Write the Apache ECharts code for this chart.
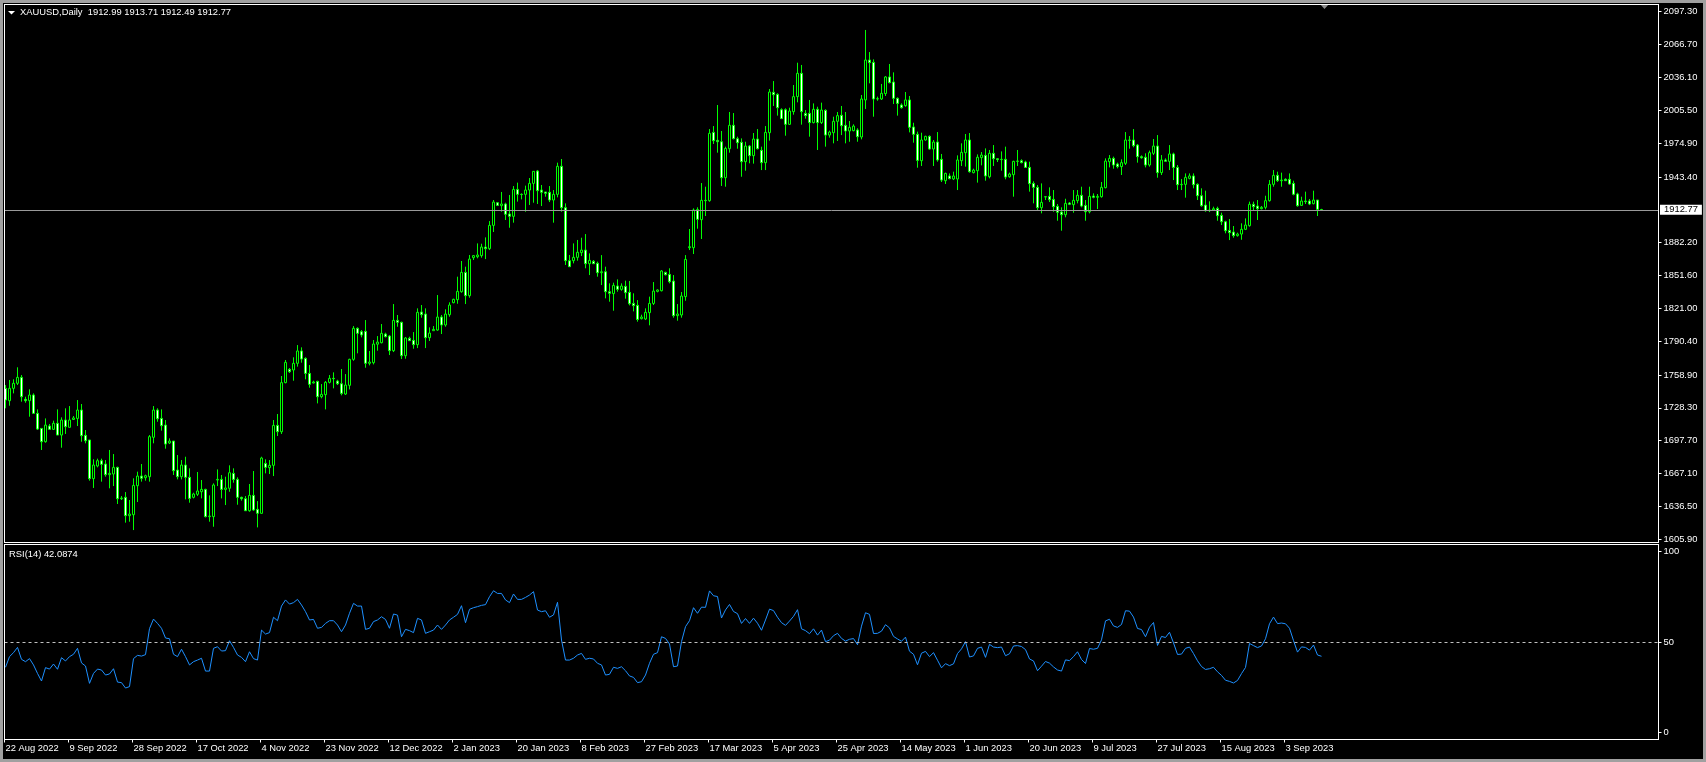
<!DOCTYPE html>
<html><head><meta charset="utf-8">
<script src="https://cdn.jsdelivr.net/npm/echarts/dist/echarts.min.js"></script>
<style>html,body{margin:0;padding:0;background:#000;overflow:hidden}#c{width:1706px;height:762px}</style>
</head><body><div id="c"></div><script>
const symbolName = 'XAUUSD,Daily';
const rsiTitle = 'RSI(14) 42.0874';
const bidPrice = 1912.77;
const barsPerLabel = 16;
const tickLabels = ['22 Aug 2022','9 Sep 2022','28 Sep 2022','17 Oct 2022','4 Nov 2022','23 Nov 2022','12 Dec 2022','2 Jan 2023','20 Jan 2023','8 Feb 2023','27 Feb 2023','17 Mar 2023','5 Apr 2023','25 Apr 2023','14 May 2023','1 Jun 2023','20 Jun 2023','9 Jul 2023','27 Jul 2023','15 Aug 2023','3 Sep 2023'];
const priceTicks = [1605.9,1636.5,1667.1,1697.7,1728.3,1758.9,1790.4,1821.0,1851.6,1882.2,1943.4,1974.9,2005.5,2036.1,2066.7,2097.3];
const rsiTicks = [0,50,100];
const rsiLevel = 50;
// [open, close, low, high]
const candles = [
[1746.5,1735.6,1727.9,1749.6],[1735.0,1746.5,1730.3,1754.3],[1746.5,1751.2,1741.8,1754.9],[1751.2,1756.7,1749.6,1766.1],[1756.7,1738.7,1734.1,1758.9],
[1736.3,1735.0,1733.1,1738.7],[1735.0,1740.3,1720.1,1745.6],[1740.3,1723.2,1722.6,1741.8],[1723.2,1708.6,1707.7,1726.9],[1709.2,1696.8,1689.1,1709.2],
[1696.8,1712.3,1695.9,1718.5],[1711.4,1708.3,1707.7,1713.3],[1708.3,1713.9,1707.7,1716.4],[1713.9,1703.0,1703.0,1726.9],[1703.0,1717.0,1691.2,1719.5],
[1717.0,1710.8,1704.0,1727.9],[1710.2,1717.0,1710.2,1730.0],[1717.5,1718.9,1717.0,1720.7],[1718.5,1726.3,1711.4,1735.6],[1726.3,1702.4,1696.8,1731.9],
[1702.7,1697.7,1695.3,1707.7],[1698.4,1662.4,1660.5,1698.4],[1662.4,1675.1,1653.7,1680.4],[1674.2,1679.1,1672.9,1681.0],[1679.1,1675.7,1659.6,1681.0],
[1676.0,1666.1,1664.2,1679.7],[1666.1,1667.3,1653.4,1689.1],[1666.7,1672.9,1655.5,1685.3],[1672.9,1643.7,1638.8,1673.5],[1643.7,1644.3,1642.5,1646.2],
[1645.0,1627.9,1621.4,1649.9],[1627.9,1629.4,1622.3,1642.5],[1628.8,1656.1,1614.5,1662.7],[1655.8,1664.8,1640.6,1668.9],[1664.8,1662.7,1659.6,1676.0],
[1663.3,1665.1,1660.5,1666.1],[1664.2,1701.5,1659.6,1703.0],[1700.9,1726.3,1695.3,1730.0],[1726.3,1718.2,1715.4,1727.9],[1718.5,1711.7,1707.1,1726.9],
[1712.3,1694.6,1690.3,1717.0],[1695.6,1697.4,1694.6,1699.9],[1697.4,1669.8,1665.8,1697.4],[1670.4,1664.2,1661.7,1684.4],[1664.2,1675.1,1661.7,1679.7],
[1675.1,1663.6,1643.1,1682.8],[1663.6,1644.0,1640.0,1672.0],[1645.0,1648.1,1644.0,1649.3],[1647.8,1650.9,1646.2,1668.6],[1650.2,1652.4,1644.0,1661.1],
[1652.4,1627.0,1626.3,1653.0],[1627.0,1627.6,1622.3,1646.8],[1627.0,1656.5,1617.6,1658.0],[1661.1,1661.7,1655.5,1671.0],[1661.7,1652.4,1644.0,1665.8],
[1652.4,1653.7,1637.8,1664.2],[1653.4,1667.9,1650.2,1674.8],[1667.3,1661.7,1658.6,1672.0],[1661.7,1645.0,1638.1,1663.6],[1645.0,1643.7,1641.9,1645.6],
[1643.7,1632.5,1632.5,1646.2],[1632.5,1646.8,1631.6,1657.4],[1646.8,1633.2,1632.5,1669.5],[1633.8,1630.1,1617.0,1641.5],[1630.1,1681.6,1629.7,1682.8],
[1676.6,1672.9,1667.3,1680.4],[1672.6,1674.8,1666.7,1679.7],[1674.8,1712.0,1664.8,1717.0],[1712.0,1706.1,1702.1,1722.6],[1706.1,1751.8,1704.0,1758.0],
[1751.8,1770.7,1751.2,1772.9],[1764.2,1762.0,1760.8,1765.4],[1763.6,1769.8,1753.6,1775.4],[1769.8,1781.3,1766.7,1786.8],[1781.3,1773.8,1770.4,1784.7],
[1774.4,1760.4,1754.9,1775.4],[1760.4,1750.2,1747.1,1768.2],[1751.5,1752.4,1751.1,1753.6],[1753.0,1738.7,1732.5,1753.6],[1738.7,1740.9,1737.2,1750.5],
[1740.6,1752.1,1726.9,1753.3],[1752.1,1755.8,1751.1,1758.9],[1755.8,1755.5,1746.5,1761.4],[1753.3,1750.8,1749.6,1754.5],[1750.8,1741.8,1740.0,1764.5],
[1741.2,1749.6,1740.3,1759.8],[1749.3,1773.5,1745.5,1774.1],[1773.5,1802.4,1772.2,1804.5],[1802.4,1797.7,1779.1,1803.3],[1799.3,1796.2,1794.0,1800.8],
[1799.6,1769.8,1765.7,1810.1],[1769.8,1771.0,1767.9,1781.3],[1770.4,1787.8,1768.8,1791.5],[1787.6,1789.6,1781.6,1795.2],[1789.0,1797.7,1788.4,1806.4],
[1797.1,1794.6,1794.0,1798.3],[1795.2,1781.6,1777.5,1796.2],[1781.6,1809.8,1780.3,1825.0],[1809.8,1808.0,1803.9,1814.8],[1808.0,1776.9,1773.8,1808.6],
[1776.9,1793.4,1774.1,1794.3],[1793.1,1790.9,1790.6,1794.6],[1791.2,1787.2,1783.4,1798.9],[1787.2,1817.3,1784.0,1821.0],[1817.6,1815.1,1812.3,1824.1],
[1815.7,1793.7,1784.0,1821.0],[1793.7,1798.0,1790.6,1803.3],[1800.2,1801.4,1800.2,1804.5],[1800.8,1812.9,1800.2,1833.4],[1812.9,1805.5,1797.1,1814.8],
[1805.5,1815.7,1803.9,1820.1],[1815.1,1824.1,1813.2,1826.6],[1826.3,1829.4,1825.7,1830.0],[1829.1,1836.8,1825.3,1850.5],[1836.5,1854.5,1835.6,1865.1],
[1854.5,1832.8,1825.0,1859.8],[1832.8,1866.9,1830.9,1870.7],[1868.2,1870.1,1866.0,1870.7],[1869.1,1870.7,1867.6,1881.5],[1870.1,1878.1,1868.2,1881.2],
[1878.1,1876.6,1866.9,1887.1],[1876.6,1898.3,1875.3,1902.3],[1898.3,1920.0,1892.1,1921.9],[1919.4,1916.9,1916.3,1920.0],[1916.6,1918.2,1911.0,1929.4],
[1918.2,1908.6,1903.3,1919.4],[1908.9,1906.7,1896.1,1926.6],[1906.7,1931.8,1900.8,1934.9],[1931.8,1927.2,1920.4,1938.1],[1927.2,1927.0,1922.5,1928.1],
[1927.2,1931.2,1911.0,1935.3],[1931.2,1937.4,1917.3,1942.4],[1937.4,1948.6,1919.4,1948.9],[1948.9,1930.6,1918.2,1949.9],[1931.2,1929.1,1916.3,1935.9],
[1929.4,1928.1,1925.0,1929.4],[1929.1,1921.9,1920.0,1934.9],[1921.9,1927.2,1900.8,1931.2],[1927.2,1953.3,1924.4,1956.7],[1953.3,1914.8,1911.0,1960.1],
[1914.8,1865.4,1861.4,1918.8],[1865.4,1859.8,1859.8,1870.7],[1865.4,1868.5,1862.9,1881.5],[1868.5,1873.2,1865.4,1884.7],[1872.9,1875.3,1869.7,1886.8],
[1875.3,1862.6,1858.3,1890.2],[1862.6,1865.7,1852.0,1872.2],[1864.8,1862.6,1862.3,1866.0],[1862.9,1854.2,1850.5,1864.5],[1854.2,1855.1,1842.7,1870.6],
[1855.1,1836.5,1830.3,1859.8],[1836.5,1835.0,1827.2,1844.3],[1834.7,1842.4,1818.8,1844.9],[1841.8,1838.7,1836.5,1848.0],[1838.7,1841.8,1837.4,1844.3],
[1841.5,1835.6,1830.0,1846.8],[1835.9,1825.3,1823.8,1846.5],[1825.6,1823.5,1818.2,1835.0],[1823.8,1810.7,1808.6,1828.7],[1811.4,1812.9,1810.7,1815.1],
[1811.1,1817.3,1810.1,1821.0],[1817.0,1825.6,1805.2,1831.9],[1825.6,1837.1,1824.1,1845.5],[1836.8,1838.1,1835.9,1838.7],[1837.4,1855.8,1836.8,1856.7],
[1854.5,1852.3,1851.7,1855.1],[1852.6,1845.8,1844.3,1858.3],[1846.4,1814.2,1812.3,1852.0],[1814.2,1815.7,1809.5,1825.0],[1814.8,1832.5,1812.3,1836.2],
[1831.9,1866.6,1828.1,1870.6],[1877.5,1878.4,1875.3,1894.9],[1877.5,1912.6,1871.6,1914.1],[1912.9,1903.9,1895.2,1915.1],[1903.6,1921.6,1885.6,1937.7],
[1921.6,1921.3,1907.0,1934.3],[1921.3,1984.0,1920.3,1988.0],[1984.9,1977.2,1974.1,1990.8],[1977.5,1976.2,1966.0,2010.4],[1976.2,1942.7,1935.0,1986.2],
[1942.7,1970.0,1934.3,1971.6],[1969.7,1991.5,1966.0,2003.9],[1991.5,1979.0,1978.4,2002.9],[1979.0,1975.3,1969.7,1980.9],[1975.6,1957.6,1943.6,1979.3],
[1957.6,1972.2,1949.2,1976.2],[1972.2,1963.2,1956.1,1973.1],[1963.2,1978.7,1955.8,1984.3],[1978.7,1969.7,1969.1,1988.0],[1968.2,1956.7,1949.8,1971.6],
[1956.7,1984.9,1949.8,1990.8],[1984.6,2022.5,1977.2,2025.3],[2022.2,2020.0,2009.5,2032.7],[2020.3,2007.9,2000.5,2021.3],[2006.0,1997.7,1997.7,2007.3],
[2006.0,1992.4,1981.8,2007.3],[1992.4,2004.8,1991.8,2007.9],[2004.2,2018.2,2001.4,2029.0],[2018.2,2039.9,2012.9,2049.8],[2039.9,2004.2,1992.1,2047.7],
[2002.6,2000.5,1997.7,2005.7],[2002.6,1994.0,1980.9,2015.1],[1994.0,2006.4,1993.3,2011.9],[2006.4,1994.0,1968.5,2008.8],[1994.0,2005.7,1992.7,2012.6],
[2005.4,1982.4,1971.6,2006.4],[1982.4,1985.2,1980.0,1986.5],[1984.6,1995.2,1974.7,1999.5],[1995.2,2000.5,1976.9,2003.9],[2000.8,1991.1,1982.4,2009.5],
[1991.5,1986.2,1974.7,2003.9],[1986.2,1989.6,1976.2,1995.5],[1986.5,1990.8,1985.9,1992.4],[1987.1,1980.9,1976.2,1988.7],[1980.6,2016.0,1978.4,2019.7],
[2015.1,2052.3,2006.7,2080.3],[2052.3,2049.8,2030.6,2059.7],[2050.1,2016.0,1999.5,2052.9],[2016.0,2016.3,2014.4,2018.2],[2016.0,2021.3,2015.1,2030.0],
[2021.0,2036.5,2018.8,2037.4],[2036.5,2031.2,2030.6,2048.6],[2031.8,2016.6,2011.3,2040.8],[2016.6,2011.9,2000.5,2017.5],[2010.4,2007.9,2007.0,2011.9],
[2009.8,2015.1,2008.8,2022.5],[2015.1,1989.6,1984.9,2018.8],[1989.9,1983.1,1975.3,1993.9],[1983.1,1958.8,1952.0,1985.6],[1958.5,1977.8,1953.6,1984.6],
[1977.8,1981.2,1977.2,1981.8],[1981.2,1969.4,1968.8,1982.1],[1969.4,1975.9,1953.6,1977.8],[1975.9,1959.2,1957.6,1985.2],[1959.8,1940.5,1938.7,1964.8],
[1939.9,1946.7,1936.8,1947.4],[1944.3,1941.8,1941.2,1946.7],[1941.5,1944.3,1940.5,1948.3],[1941.5,1959.2,1931.2,1963.5],[1958.5,1966.3,1953.6,1974.7],
[1966.0,1977.8,1953.0,1983.4],[1977.8,1948.3,1947.4,1984.3],[1947.4,1949.8,1946.7,1951.1],[1949.2,1961.7,1938.1,1964.4],[1961.4,1963.8,1954.2,1966.6],
[1963.5,1944.3,1939.9,1970.0],[1943.6,1965.4,1942.1,1968.5],[1965.4,1960.4,1953.6,1973.1],[1960.4,1959.5,1957.3,1961.0],[1959.5,1959.8,1949.2,1967.2],
[1959.8,1943.3,1941.2,1971.6],[1943.6,1946.1,1942.7,1947.4],[1945.5,1957.9,1925.0,1958.5],[1957.9,1958.2,1953.6,1968.5],[1958.5,1956.7,1956.1,1959.8],
[1957.3,1952.3,1951.7,1958.5],[1952.3,1937.1,1929.7,1957.6],[1937.4,1933.7,1918.8,1939.3],[1933.7,1914.8,1912.6,1935.9],[1914.8,1919.7,1909.5,1937.4],
[1924.7,1925.0,1921.9,1925.6],[1925.3,1922.2,1920.0,1933.7],[1922.5,1915.7,1911.0,1931.2],[1916.0,1910.4,1902.6,1918.2],[1910.7,1908.2,1893.3,1915.1],
[1908.2,1918.8,1905.8,1923.1],[1919.1,1917.9,1917.2,1920.0],[1917.6,1921.6,1910.1,1931.2],[1921.3,1926.3,1918.8,1931.2],[1926.3,1916.3,1915.1,1934.3],
[1916.9,1911.0,1902.6,1921.9],[1911.0,1925.3,1909.5,1934.3],[1925.6,1924.4,1923.5,1928.1],[1924.4,1925.3,1913.5,1927.5],[1925.0,1933.7,1924.1,1938.7],
[1933.4,1958.2,1932.8,1960.7],[1957.6,1960.7,1952.3,1963.8],[1960.7,1954.5,1951.1,1962.3],[1955.4,1953.0,1951.4,1956.7],[1953.0,1956.7,1945.2,1959.8],
[1956.1,1977.8,1954.5,1985.2],[1977.8,1977.5,1969.7,1981.5],[1977.8,1972.5,1971.0,1988.0],[1973.1,1962.3,1956.7,1974.1],[1962.3,1961.3,1960.4,1963.5],
[1961.7,1954.5,1952.3,1965.4],[1954.5,1966.0,1953.0,1967.9],[1965.4,1972.2,1963.8,1978.7],[1972.2,1947.4,1942.7,1982.4],[1947.4,1959.2,1945.2,1963.8],
[1959.2,1957.9,1957.9,1960.7],[1957.9,1964.8,1949.8,1973.1],[1964.8,1952.3,1940.5,1966.0],[1952.3,1936.2,1931.2,1954.5],[1936.2,1936.5,1931.2,1941.5],
[1936.5,1943.0,1924.1,1946.7],[1942.1,1944.3,1941.2,1946.7],[1944.3,1936.2,1932.8,1946.7],[1936.5,1925.9,1921.9,1937.4],[1925.9,1916.6,1915.7,1932.8],
[1917.2,1912.0,1911.0,1930.6],[1912.0,1912.6,1910.7,1920.7],[1912.6,1913.8,1912.0,1915.7],[1914.1,1907.3,1902.6,1915.7],[1907.6,1901.7,1898.6,1910.1],
[1901.7,1893.3,1890.9,1902.6],[1893.6,1891.5,1884.6,1904.2],[1892.1,1888.7,1886.8,1897.7],[1888.7,1890.2,1887.8,1891.5],[1890.2,1894.6,1884.9,1900.2],
[1894.6,1898.6,1893.9,1904.8],[1898.0,1917.9,1897.1,1920.4],[1917.9,1915.7,1912.0,1920.4],[1916.3,1913.8,1903.3,1921.9],[1913.8,1915.1,1913.2,1916.3],
[1915.1,1921.3,1913.2,1925.9],[1921.3,1936.5,1920.4,1940.5],[1936.5,1944.9,1934.3,1949.8],[1944.9,1939.9,1938.7,1948.3],[1939.9,1940.5,1934.3,1947.4],
[1941.2,1939.9,1939.6,1942.1],[1941.2,1936.8,1936.2,1946.7],[1937.4,1927.2,1926.3,1939.9],[1927.5,1916.6,1915.7,1928.7],[1916.9,1921.0,1916.6,1925.0],
[1921.0,1920.4,1918.2,1929.7],[1921.0,1918.2,1917.2,1922.8],[1918.5,1921.9,1917.9,1930.6],[1921.9,1913.2,1907.0,1921.9],[1912.99,1912.77,1912.49,1913.71]
];
const rsi = [
36.0,41.9,44.1,47.0,40.4,39.1,40.8,37.3,32.6,28.4,
35.8,35.0,37.8,34.9,41.3,39.5,41.9,43.2,46.5,38.4,
36.7,27.1,32.6,35.0,34.5,31.7,32.3,35.2,27.8,27.5,
24.5,25.3,40.8,42.6,42.2,43.0,57.4,62.7,60.3,57.6,
52.2,51.8,43.2,41.9,46.0,41.9,37.3,39.1,40.0,41.0,
33.9,33.9,46.5,47.4,45.0,45.2,50.7,47.0,42.8,41.5,
39.1,44.6,40.8,40.0,56.6,54.4,55.2,63.7,61.8,69.9,
73.3,71.0,71.8,73.6,70.5,66.8,62.2,62.5,57.6,58.1,
60.3,61.8,61.8,59.4,55.7,59.4,65.9,71.4,69.9,69.9,
57.0,57.6,61.3,62.2,64.0,62.5,57.6,65.5,64.9,52.9,
57.0,56.3,55.2,63.1,62.2,54.8,55.7,56.6,59.4,57.0,
59.4,62.2,63.7,65.3,70.1,60.7,68.1,69.0,69.6,70.3,
70.7,75.1,78.4,76.9,76.9,73.3,71.8,76.6,73.6,73.6,
74.7,76.0,77.9,67.7,66.8,67.3,63.7,65.0,72.0,51.1,
40.0,40.0,41.0,42.8,43.7,40.4,41.0,40.6,38.2,37.3,
31.7,32.1,36.0,35.4,36.3,34.1,31.2,30.4,27.5,28.0,
31.7,38.2,43.2,44.1,52.9,52.0,48.9,36.3,36.7,50.2,
58.5,61.8,69.0,65.9,69.3,69.2,78.3,75.6,75.2,63.3,
67.8,70.8,66.9,65.7,60.3,63.0,60.3,63.2,60.4,56.5,
62.2,68.2,67.4,63.7,60.7,59.2,61.6,64.2,67.9,57.3,
56.3,54.6,57.3,53.8,56.6,50.2,51.0,53.5,54.8,52.0,
50.5,51.5,51.9,48.5,58.8,66.2,65.3,54.7,54.8,56.0,
59.6,57.8,53.1,51.7,50.4,52.7,44.9,43.2,37.4,43.8,
44.8,41.9,44.1,39.9,35.7,38.0,36.9,37.9,43.6,46.2,
50.2,41.7,42.3,46.5,47.2,41.5,48.7,47.2,46.9,47.2,
42.4,43.5,47.8,48.0,47.5,45.8,40.6,39.5,34.1,36.6,
39.2,38.3,36.2,34.5,33.9,40.1,39.7,41.9,44.6,40.3,
38.1,46.4,46.0,46.5,51.2,61.7,62.6,58.9,58.1,59.7,
67.3,67.1,63.8,57.5,56.9,52.9,58.2,60.8,48.1,53.1,
52.5,55.4,49.5,43.1,43.3,46.5,47.2,43.6,39.6,36.4,
34.8,35.2,36.0,33.5,31.5,28.8,28.2,27.3,28.7,32.5,
35.9,49.2,48.0,46.9,47.8,51.8,60.1,63.8,60.2,60.5,
60.1,57.6,50.8,44.4,47.3,47.0,45.5,48.3,42.8,42.1
];

const FONT = 'Liberation Sans';
const FS = 9.4;
const WHITE = '#ffffff';
const FRAME = '#a0a0a0';
const chart = echarts.init(document.getElementById('c'), null, {renderer: 'canvas'});
const candleData = candles.map((c, i) => [i, c[0], c[1], c[2], c[3]]);
const rsiData = rsi.map((v, i) => [i, v]);
const last = candles[candles.length - 1];
const header = symbolName + '  ' + [last[0], last[3], last[2], last[1]].map(v => v.toFixed(2)).join(' ');
const xLabelVals = tickLabels.map((_, k) => k * barsPerLabel);
const xTickVals = tickLabels.map((_, k) => k * barsPerLabel - 0.25);
const X_MIN = -0.25, X_MAX = 413.25;

function box(x, y, w, h) {
  // panel border made of four 1px filled rects
  return [
    {type: 'rect', silent: true, z: 10, shape: {x: x, y: y, width: w, height: 1}, style: {fill: WHITE}},
    {type: 'rect', silent: true, z: 10, shape: {x: x, y: y + h - 1, width: w, height: 1}, style: {fill: WHITE}},
    {type: 'rect', silent: true, z: 10, shape: {x: x, y: y, width: 1, height: h}, style: {fill: WHITE}},
    {type: 'rect', silent: true, z: 10, shape: {x: x + w - 1, y: y, width: 1, height: h}, style: {fill: WHITE}}
  ];
}

const option = {
  backgroundColor: '#000000',
  animation: false,
  grid: [
    {left: 4.5, top: 4.5, width: 1654, height: 538, show: false},
    {left: 4.5, top: 544.5, width: 1654, height: 195, show: false}
  ],
  xAxis: [
    {type: 'value', gridIndex: 0, min: X_MIN, max: X_MAX, show: false,
      axisLine: {show: false, onZero: false}, axisTick: {show: false}, axisLabel: {show: false}, splitLine: {show: false}},
    {type: 'value', gridIndex: 1, min: X_MIN, max: X_MAX, position: 'bottom',
      axisLine: {show: false, onZero: false}, splitLine: {show: false},
      axisTick: {show: true, customValues: xTickVals, length: 3, lineStyle: {color: WHITE, width: 1}},
      axisLabel: {show: true, customValues: xLabelVals, formatter: v => tickLabels[Math.round(v / barsPerLabel)] || '',
        color: WHITE, fontFamily: FONT, fontSize: FS, align: 'left', margin: 4}}
  ],
  yAxis: [
    {type: 'value', gridIndex: 0, position: 'right', min: 1602.92, max: 2104.01,
      axisLine: {show: false, onZero: false}, splitLine: {show: false},
      axisTick: {show: true, customValues: priceTicks, length: 3, lineStyle: {color: WHITE, width: 1}},
      axisLabel: {show: true, customValues: priceTicks, formatter: v => v.toFixed(2), color: WHITE, fontFamily: FONT, fontSize: FS, margin: 5}},
    {type: 'value', gridIndex: 1, position: 'right', min: -4, max: 104,
      axisLine: {show: false, onZero: false}, splitLine: {show: false},
      axisTick: {show: true, customValues: rsiTicks, length: 3, lineStyle: {color: WHITE, width: 1}},
      axisLabel: {show: true, customValues: rsiTicks, formatter: v => String(v), color: WHITE, fontFamily: FONT, fontSize: FS, margin: 5}}
  ],
  series: [
    {type: 'candlestick', xAxisIndex: 0, yAxisIndex: 0, data: candleData, encode: {x: 0, y: [1, 2, 3, 4]},
      barWidth: 2, silent: true,
      itemStyle: {color: '#000000', color0: '#ffffff', borderColor: '#00ff00', borderColor0: '#00ff00', borderColorDoji: '#00ff00', borderWidth: 1},
      markLine: {silent: true, symbol: ['none', 'none'], animation: false,
        lineStyle: {color: '#9a9a9a', type: 'solid', width: 1},
        label: {show: true, position: 'end', formatter: bidPrice.toFixed(2), backgroundColor: '#ffffff', color: '#000000',
          fontFamily: FONT, fontSize: FS, padding: [1, 4, 0, 4], distance: 1.5},
        emphasis: {disabled: true},
        data: [{yAxis: bidPrice}]}},
    {type: 'line', xAxisIndex: 1, yAxisIndex: 1, data: rsiData, symbol: 'none', showSymbol: false, silent: true,
      lineStyle: {color: '#1e90ff', width: 1},
      markLine: {silent: true, symbol: ['none', 'none'], animation: false,
        lineStyle: {color: '#c0c0c0', type: [3, 3], width: 1}, label: {show: false}, emphasis: {disabled: true},
        data: [{yAxis: rsiLevel}]}}
  ],
  graphic: [
    {type: 'rect', silent: true, shape: {x: 0, y: 0, width: 1706, height: 3}, style: {fill: FRAME}},
    {type: 'rect', silent: true, shape: {x: 0, y: 0, width: 3, height: 762}, style: {fill: FRAME}},
    {type: 'rect', silent: true, shape: {x: 1703, y: 0, width: 3, height: 762}, style: {fill: FRAME}},
    {type: 'rect', silent: true, shape: {x: 0, y: 759, width: 1706, height: 3}, style: {fill: FRAME}},
    ...box(4, 4, 1655, 539),
    ...box(4, 544, 1655, 196),
    {type: 'polygon', silent: true, shape: {points: [[8, 11], [15, 11], [11.5, 14.5]]}, style: {fill: WHITE}},
    {type: 'text', silent: true, x: 20, y: 12.5, style: {text: header, fill: WHITE, fontFamily: FONT, fontSize: FS, align: 'left', verticalAlign: 'middle'}},
    {type: 'text', silent: true, x: 9, y: 554.5, style: {text: rsiTitle, fill: WHITE, fontFamily: FONT, fontSize: FS, align: 'left', verticalAlign: 'middle'}},
    {type: 'polygon', silent: true, shape: {points: [[1320, 4], [1329, 4], [1324.5, 9]]}, style: {fill: '#8c8c8c'}}
  ]
};
chart.setOption(option);
</script></body></html>
